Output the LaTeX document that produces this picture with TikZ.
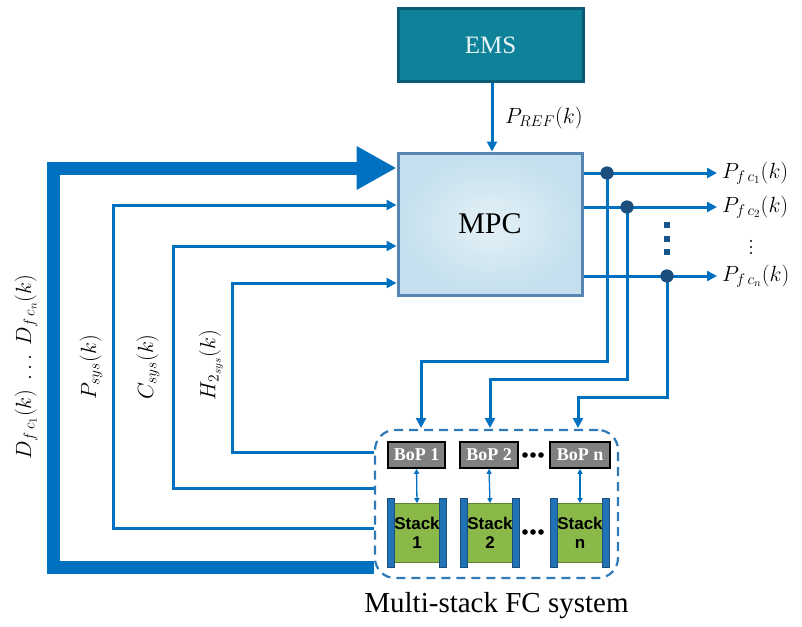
\RequirePackage{fix-cm}
\documentclass[tikz,border=0pt]{standalone}
\usepackage{fontspec}
\setmainfont{Liberation Serif}
\newfontfamily\stackfont{Liberation Sans}
\usetikzlibrary{arrows.meta,positioning,calc}
\definecolor{lineblue}{HTML}{0070C0}
\definecolor{dotblue}{HTML}{1B4F7D}
\definecolor{dashblue}{HTML}{2E7AB8}
\definecolor{emsfill}{HTML}{0E8299}
\definecolor{emsborder}{HTML}{0A5C76}
\definecolor{mpcborder}{HTML}{5585B0}
\definecolor{mpcin}{HTML}{E4F0F6}
\definecolor{mpcout}{HTML}{C4E0EE}
\definecolor{bopgray}{HTML}{808080}
\definecolor{stackgreen}{HTML}{8AB94A}
\definecolor{plateblue}{HTML}{2272B6}
\definecolor{plateedge}{HTML}{1A4F7D}
\definecolor{emstext}{HTML}{E8F4F4}
\begin{document}
\begin{tikzpicture}[x=1pt,y=-1pt,
  wire/.style={draw=lineblue, line width=3pt},
  sig/.style={wire, -{Triangle[length=10pt,width=10pt]}},
  dbl/.style={draw=lineblue, line width=1.3pt, {Triangle[length=5pt,width=5pt]}-{Triangle[length=5pt,width=5pt]}},
  emsbox/.style={rectangle, fill=emsfill, draw=emsborder, line width=3pt, minimum width=185pt, minimum height=72pt, text=emstext, font=\fontsize{25}{30}\selectfont},
  mpcbox/.style={rectangle, inner color=mpcin, outer color=mpcout, draw=mpcborder, line width=3pt, minimum width=184pt, minimum height=142pt, font=\fontsize{30}{36}\selectfont},
  jdot/.style={circle, fill=dotblue, inner sep=0pt, minimum size=13pt},
  lab/.style={font=\fontsize{22}{26}\selectfont, inner sep=0pt},
  boxbop/.style={rectangle, fill=bopgray, draw=black, line width=1.6pt, minimum height=26pt, inner sep=0pt, text=white, font=\fontsize{18}{20}\selectfont\bfseries},
  stackbox/.style={rectangle, fill=stackgreen, draw=stackgreen!70!black, line width=0.6pt, minimum width=36pt, minimum height=59pt, inner sep=0pt, align=center, font=\stackfont\fontsize{17}{19}\selectfont\bfseries},
  plate/.style={rectangle, fill=plateblue, draw=plateedge, line width=0.8pt, minimum width=7pt, minimum height=69pt, inner sep=0pt},
  fcbox/.style={rectangle, draw=dashblue, line width=2.2pt, dash pattern=on 9pt off 6pt, rounded corners=20pt, minimum width=243pt, minimum height=148pt}
]
\useasboundingbox (0,0) rectangle (802,626);

% main blocks
\node[emsbox] (ems) at (490.5,45) {EMS};
\node[mpcbox] (mpc) at (490,224) {MPC};
\draw[sig] (ems.south -| 492,0) -- (mpc.north -| 492,0);
\node[lab, anchor=west] (pref) at (505,118) {$P_{REF}(k)$};

% outputs
\coordinate (o1) at (717,173);
\coordinate (o2) at (717,207);
\coordinate (on) at (717,276);
\draw[sig] (mpc.east |- o1) -- (o1);
\draw[sig] (mpc.east |- o2) -- (o2);
\draw[sig] (mpc.east |- on) -- (on);
\node[lab, anchor=west] (lo1) at (722,173) {$P_{f\,c_1}(k)$};
\node[lab, anchor=west] (lo2) at (722,207) {$P_{f\,c_2}(k)$};
\foreach \yy in {241,247,253}{ \fill (751,\yy) circle (1.2pt); }
\node[lab, anchor=west] (lon) at (722,276) {$P_{f\,c_n}(k)$};

% multi-stack system
\node[fcbox] (fc) at (496.5,504) {};
\node[below=10pt of fc, font=\fontsize{29}{34}\selectfont] (cap) {Multi-stack FC system};

\node[boxbop, minimum width=57pt] (b1) at (416.5,455) {BoP 1};
\node[boxbop, minimum width=58pt] (b2) at (489,455) {BoP 2};
\node[boxbop, minimum width=60pt] (bn) at (580,455) {BoP n};

\node[stackbox] (s1) at (417,533) {Stack\\1};
\node[stackbox] (s2) at (490,533) {Stack\\2};
\node[stackbox] (sn) at (580,533) {Stack\\n};
\foreach \s in {s1,s2,sn}{
  \node[plate, anchor=east] (\s l) at ([xshift=0.5pt]\s.west) {};
  \node[plate, anchor=west] (\s r) at ([xshift=-0.5pt]\s.east) {};
}
\draw[dbl] (b1.south) -- (s1.north);
\draw[dbl] (b2.south) -- (s2.north);
\draw[dbl] (bn.south) -- (sn.north);
\foreach \dx in {-8,0,8}{
  \fill (533+\dx,455) circle (2.8pt);
  \fill (533+\dx,532) circle (2.8pt);
}

% junctions and routing to BoPs
\node[jdot] (j1) at (607,173) {};
\node[jdot] (j2) at (627,207) {};
\node[jdot] (jn) at (667,276) {};
\coordinate (t1) at (421,428);
\coordinate (t2) at (490,428);
\coordinate (tn) at (578,428);
\draw[sig] (j1.center) -- (607,361) -| (t1);
\draw[sig] (j2.center) -- (627,379) -| (t2);
\draw[sig] (jn.center) -- (667,397) -| (tn);
\node[jdot] at (j1) {};
\node[jdot] at (j2) {};
\node[jdot] at (jn) {};
\foreach \yy in {225,238.5,252}{
  \fill[dotblue!80!lineblue] (664,\yy-3) rectangle (670,\yy+3);
}

% feedback lines
\coordinate (fd) at (374,567);
\coordinate (fp) at (374,528);
\coordinate (fcs) at (374,488);
\coordinate (fh) at (374,452);
\draw[draw=lineblue, line width=13pt, line join=miter, -{Triangle[length=40pt,width=41pt]}]
  (fd) -- (53,567) -- (53,168) -- (mpc.west |- 0,168);
\draw[sig, line join=miter] (fp) -- (113,528) -- (113,205) -- (mpc.west |- 0,205);
\draw[sig, line join=miter] (fcs) -- (173,488) -- (173,246) -- (mpc.west |- 0,246);
\draw[sig, line join=miter] (fh) -- (232,452) -- (232,283) -- (mpc.west |- 0,283);

\node[lab, rotate=90] (ld) at (26,367) {$D_{f\,c_1}(k)\ \ldots\ D_{f\,c_n}(k)$};
\node[lab, rotate=90] (lp) at (91,367) {$P_{sys}(k)$};
\node[lab, rotate=90] (lc) at (148,367) {$C_{sys}(k)$};
\node[lab, rotate=90] (lh) at (211,365) {$H_{2_{sys}}(k)$};
\end{tikzpicture}
\end{document}
